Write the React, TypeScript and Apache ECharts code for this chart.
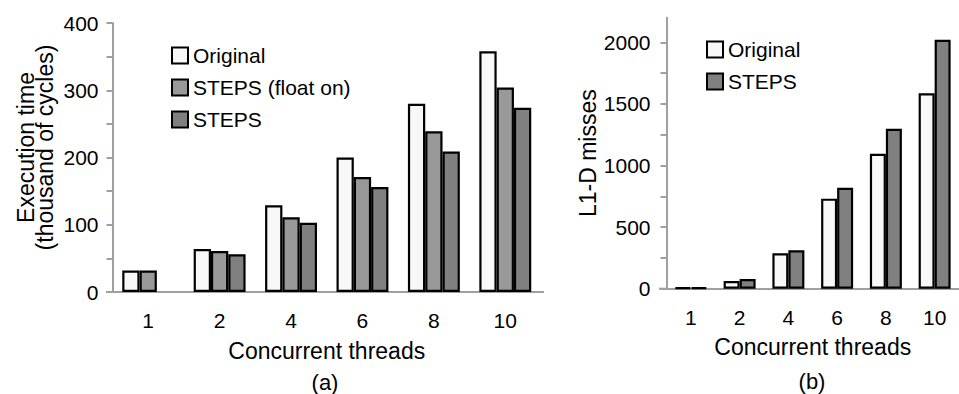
import React, { useEffect, useRef } from "react";
import * as echarts from "echarts";

const threads = ["1", "2", "4", "6", "8", "10"];
const execOriginal = [32, 64, 129, 200, 280, 358];
const execFloatOn = [32, 61, 111, 171, 239, 304];
const execSteps = [null, 56, 103, 156, 209, 274];
const missOriginal = [8, 62, 287, 731, 1096, 1586];
const missSteps = [9, 79, 312, 820, 1299, 2021];
const execTicks = [0, 50, 100, 150, 200, 250, 300, 350, 400];
const execLabels = [0, 100, 200, 300, 400];
const missTicks = [0, 250, 500, 750, 1000, 1250, 1500, 1750, 2000];
const missLabels = [0, 500, 1000, 1500, 2000];

const FONT = "'Liberation Sans', Arial, Helvetica, sans-serif";
const AXIS_GRAY = "#a0a0a0";
const C_ORIG = "#f8f8f8";
const C_FLOAT = "#999999";
const C_STEPS = "#808080";

export default function App() {
  const ref = useRef<HTMLDivElement>(null);
  useEffect(() => {
    if (!ref.current) return;
    document.body.style.margin = "0";
    const chart = echarts.init(ref.current, undefined, { renderer: "svg" });
    const barStyle = (color: string) => ({ color, borderColor: "#000", borderWidth: 2.2 });
    const plain = (v: number) => String(v);
    const xAxisCommon = {
      type: "category" as const,
      data: threads,
      axisLine: { lineStyle: { color: AXIS_GRAY, width: 2 } },
      axisTick: { show: false },
      axisLabel: { color: "#000", fontSize: 21, fontFamily: FONT, margin: 18 },
      name: "Concurrent threads",
      nameLocation: "middle" as const,
      nameGap: 47,
      nameTextStyle: { color: "#000", fontSize: 23, fontFamily: FONT },
    };
    const legendCommon = {
      orient: "vertical",
      padding: 0,
      itemWidth: 16,
      itemHeight: 16,
      itemGap: 11,
      icon: "rect",
      itemStyle: { borderColor: "#000", borderWidth: 2 },
      textStyle: { color: "#000", fontSize: 21, fontFamily: FONT },
      selectedMode: false,
    };
    const option: any = {
      animation: false,
      backgroundColor: "#fff",
      textStyle: { fontFamily: FONT },
      grid: [
        { left: 112.5, top: 23, width: 428.5, height: 269 },
        { left: 666.5, top: 17.7, width: 301, height: 271 },
      ],
      xAxis: [
        { ...xAxisCommon, gridIndex: 0 },
        { ...xAxisCommon, gridIndex: 1 },
      ],
      yAxis: [
        {
          type: "value",
          gridIndex: 0,
          min: 0,
          max: 400,
          interval: 50,
          axisLine: { show: true, lineStyle: { color: AXIS_GRAY, width: 2 } },
          axisTick: { show: true, length: 6, lineStyle: { color: AXIS_GRAY, width: 2 }, customValues: execTicks },
          axisLabel: { color: "#000", fontSize: 21, fontFamily: FONT, margin: 14, customValues: execLabels, formatter: plain },
          splitLine: { show: false },
          name: "Execution time\n(thousand of cycles)",
          nameLocation: "middle",
          nameGap: 58,
          nameRotate: 90,
          nameTextStyle: { color: "#000", fontSize: 23, lineHeight: 19, fontFamily: FONT, padding: [0, 0, 0, 20] },
        },
        {
          type: "value",
          gridIndex: 1,
          min: 0,
          max: 2200,
          interval: 250,
          axisLine: { show: true, lineStyle: { color: AXIS_GRAY, width: 2 } },
          axisTick: { show: true, length: 6, lineStyle: { color: AXIS_GRAY, width: 2 }, customValues: missTicks },
          axisLabel: { color: "#000", fontSize: 21, fontFamily: FONT, margin: 16, customValues: missLabels, formatter: plain },
          splitLine: { show: false },
          name: "L1-D misses",
          nameLocation: "middle",
          nameGap: 66,
          nameRotate: 90,
          nameTextStyle: { color: "#000", fontSize: 23, fontFamily: FONT },
        },
      ],
      legend: [
        { ...legendCommon, data: ["Original", "STEPS (float on)", "STEPS"], left: 171, top: 45 },
        { ...legendCommon, data: ["Original", "STEPS"], left: 706, top: 39 },
      ],
      series: [
        { name: "Original", type: "bar", xAxisIndex: 0, yAxisIndex: 0, data: execOriginal, barWidth: 17.3, barGap: "0%", itemStyle: barStyle(C_ORIG) },
        { name: "STEPS (float on)", type: "bar", xAxisIndex: 0, yAxisIndex: 0, data: execFloatOn, barWidth: 17.3, barGap: "0%", itemStyle: barStyle(C_FLOAT) },
        { name: "STEPS", type: "bar", xAxisIndex: 0, yAxisIndex: 0, data: execSteps, barWidth: 17.3, barGap: "0%", itemStyle: barStyle(C_STEPS) },
        { name: "Original", type: "bar", xAxisIndex: 1, yAxisIndex: 1, data: missOriginal, barWidth: 16, barGap: "0%", itemStyle: barStyle(C_ORIG) },
        { name: "STEPS", type: "bar", xAxisIndex: 1, yAxisIndex: 1, data: missSteps, barWidth: 16, barGap: "0%", itemStyle: barStyle(C_STEPS) },
      ],
      graphic: [
        { type: "line", shape: { x1: 106, y1: 292, x2: 113, y2: 292 }, style: { stroke: AXIS_GRAY, lineWidth: 2 } },
        { type: "line", shape: { x1: 541, y1: 292, x2: 544, y2: 292 }, style: { stroke: AXIS_GRAY, lineWidth: 2 } },
        { type: "line", shape: { x1: 659, y1: 288.7, x2: 667, y2: 288.7 }, style: { stroke: AXIS_GRAY, lineWidth: 2 } },
        {
          type: "text",
          x: 325,
          y: 393,
          style: { text: "(a)", fill: "#000", font: `22px ${FONT}`, align: "center", textAlign: "center", verticalAlign: "bottom", textVerticalAlign: "bottom" },
        },
        {
          type: "text",
          x: 812,
          y: 392,
          style: { text: "(b)", fill: "#000", font: `22px ${FONT}`, align: "center", textAlign: "center", verticalAlign: "bottom", textVerticalAlign: "bottom" },
        },
      ],
    };
    chart.setOption(option);
    return () => chart.dispose();
  }, []);
  return <div ref={ref} style={{ position: "fixed", left: 0, top: 0, width: 959, height: 394 }} />;
}
